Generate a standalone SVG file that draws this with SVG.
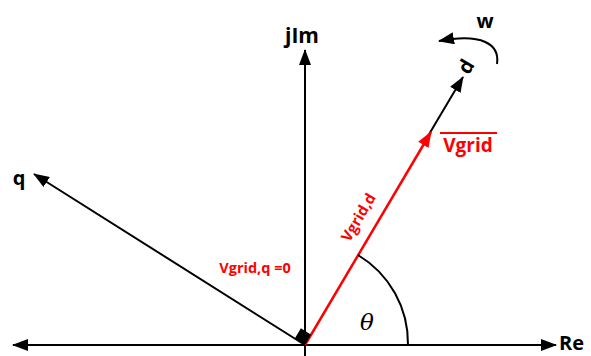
<svg xmlns="http://www.w3.org/2000/svg" width="591" height="356" viewBox="0 0 591 356">
<style>
.ax{stroke:#000;stroke-width:2;fill:none}
.red{stroke:#f00;stroke-width:2.5;fill:none}
.lbl{font-family:"Open Sans","Liberation Sans",sans-serif;font-weight:bold;fill:#000}
.rl{font-family:"Open Sans","Liberation Sans",sans-serif;font-weight:bold;fill:#f00}
</style>
<defs>
<marker id="ah" viewBox="0 0 16 12" refX="15" refY="6" markerWidth="16" markerHeight="12" markerUnits="userSpaceOnUse" orient="auto">
<path d="M0,0 L16,6 L0,12 z" fill="#000"/>
</marker>
<marker id="ahr" viewBox="0 0 16 12" refX="15" refY="6" markerWidth="16" markerHeight="12" markerUnits="userSpaceOnUse" orient="auto">
<path d="M0,0 L16,6 L0,12 z" fill="#f00"/>
</marker>
</defs>
<rect width="591" height="356" fill="#fff"/>
<g id="connectors">
<line class="ax" x1="160" y1="345" x2="13" y2="345" marker-end="url(#ah)"/>
<line class="ax" x1="160" y1="345" x2="556" y2="345" marker-end="url(#ah)"/>
<line class="ax" x1="305" y1="356" x2="305" y2="50" marker-end="url(#ah)"/>
<line class="ax" x1="305" y1="345" x2="34" y2="174" marker-end="url(#ah)"/>
<line class="ax" x1="428" y1="136" x2="463" y2="77" marker-end="url(#ah)"/>
<line class="red" x1="305" y1="345" x2="431" y2="132" marker-end="url(#ahr)"/>
<path class="ax" d="M408,345 A103,103 0 0 0 358,255"/>
<path class="ax" d="M497,64 C500,44 482,33 439,41" marker-end="url(#ah)"/>
<polygon points="305,345 311.1,334.7 300.9,328.3 294.8,338.6" fill="#000"/>
</g>
<g id="label-jIm"><text class="lbl" x="302" y="43" font-size="21" text-anchor="middle">jIm</text></g>
<g id="label-q"><text class="lbl" x="19" y="185" font-size="20" text-anchor="middle">q</text></g>
<g id="label-Re"><text class="lbl" x="559" y="350" font-size="20">Re</text></g>
<g id="label-w"><text class="lbl" x="485" y="28" font-size="20" text-anchor="middle">w</text></g>
<g id="label-d"><text class="lbl" x="0" y="0" font-size="20" text-anchor="middle" transform="translate(472,70) rotate(-59.5)">d</text></g>
<g id="label-Vgrid">
<text class="rl" x="468" y="152" font-size="19" text-anchor="middle">Vgrid</text>
<line x1="440" y1="133" x2="497" y2="133" stroke="#f00" stroke-width="2"/>
</g>
<g id="label-Vgridd"><text class="rl" x="0" y="0" font-size="15" text-anchor="middle" transform="translate(363,220) rotate(-59.5)">Vgrid,d</text></g>
<g id="label-Vgridq"><text class="rl" x="255" y="273" font-size="14.5" text-anchor="middle">Vgrid,q =0</text></g>
<g id="label-theta"><text x="367" y="330" font-size="23" font-style="italic" font-family="'DejaVu Serif','Liberation Serif',serif" text-anchor="middle">θ</text></g>
</svg>
